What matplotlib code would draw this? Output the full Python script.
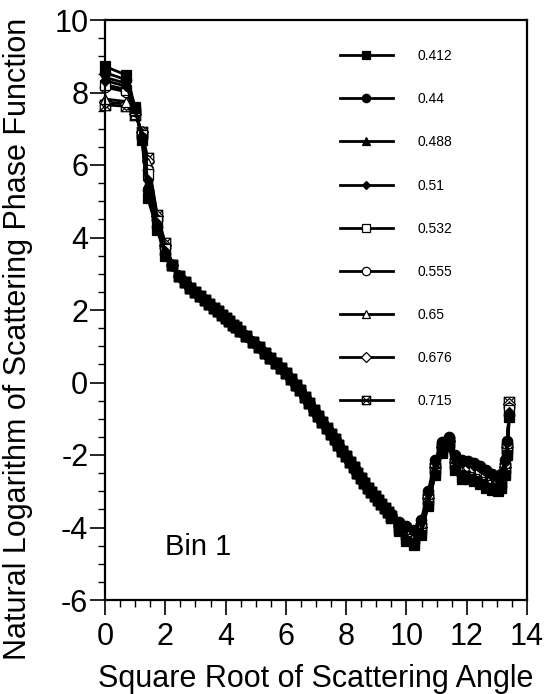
import numpy as np
import matplotlib
matplotlib.use("Agg")
import matplotlib.pyplot as plt
from matplotlib.path import Path
from matplotlib.ticker import MultipleLocator

plt.rcParams['font.family'] = ['Liberation Sans', 'DejaVu Sans']
plt.rcParams['axes.unicode_minus'] = False

labels = ['0.412', '0.44', '0.488', '0.51', '0.532', '0.555', '0.65', '0.676', '0.715']

# scattering angles (degrees); x axis is sqrt(angle)
head_angle = [0, 0.5, 1, 1.5, 2, 3, 4]
mid_angle = list(range(5, 21)) + list(range(22, 89, 2))
tail_angle = [90, 95, 100, 105, 110, 115, 120, 125, 130, 135, 140, 145, 150,
              155, 160, 165, 170, 173, 176, 178, 180]

# forward peak, one row per series
head = [
    [8.72, 8.48, 7.60, 6.70, 5.10, 4.20, 3.50],
    [8.55, 8.35, 7.58, 6.75, 5.30, 4.28, 3.55],
    [8.42, 8.25, 7.56, 6.78, 5.50, 4.35, 3.60],
    [8.33, 8.17, 7.54, 6.80, 5.60, 4.40, 3.63],
    [8.22, 8.08, 7.52, 6.82, 5.75, 4.45, 3.67],
    [8.15, 8.02, 7.50, 6.84, 5.85, 4.48, 3.70],
    [7.82, 7.75, 7.42, 6.88, 6.05, 4.55, 3.77],
    [7.74, 7.68, 7.40, 6.90, 6.10, 4.58, 3.80],
    [7.66, 7.62, 7.38, 6.92, 6.20, 4.62, 3.85],
]

# middle angles, where all series overlap
mid = [3.25, 2.95, 2.78, 2.62, 2.50, 2.38, 2.27, 2.16, 2.06, 1.96, 1.87, 1.78,
       1.69, 1.60, 1.52, 1.43,
       1.27, 1.12, 0.97, 0.82, 0.68, 0.55, 0.41, 0.25, 0.09, -0.06, -0.21,
       -0.39, -0.57, -0.75, -0.92, -1.08, -1.25, -1.41, -1.57, -1.73, -1.88,
       -2.04, -2.19, -2.34, -2.49, -2.63, -2.77, -2.91, -3.02, -3.14, -3.25,
       -3.36, -3.47, -3.58]

# side and back scattering, one row per series
tail = [
    [-3.74, -4.09, -4.37, -4.47, -4.20, -3.40, -2.55, -1.95, -1.74, -2.40, -2.65,
     -2.67, -2.73, -2.80, -2.90, -2.97, -3.00, -2.92, -2.55, -2.00, -0.95],
    [-3.62, -3.85, -3.97, -4.07, -3.80, -3.00, -2.15, -1.65, -1.50, -2.00, -2.15,
     -2.17, -2.23, -2.30, -2.40, -2.53, -2.60, -2.52, -2.15, -1.60, -0.90],
    [-3.71, -4.03, -4.27, -4.37, -4.10, -3.30, -2.45, -1.88, -1.68, -2.30, -2.53,
     -2.55, -2.61, -2.68, -2.78, -2.86, -2.90, -2.82, -2.45, -1.90, -0.85],
    [-3.64, -3.88, -4.02, -4.12, -3.85, -3.05, -2.20, -1.69, -1.53, -2.05, -2.21,
     -2.23, -2.29, -2.36, -2.46, -2.59, -2.65, -2.57, -2.20, -1.65, -0.80],
    [-3.73, -4.06, -4.32, -4.42, -4.15, -3.35, -2.50, -1.91, -1.71, -2.35, -2.59,
     -2.61, -2.67, -2.74, -2.84, -2.92, -2.95, -2.87, -2.50, -1.95, -0.75],
    [-3.65, -3.91, -4.07, -4.17, -3.90, -3.10, -2.25, -1.73, -1.56, -2.10, -2.28,
     -2.30, -2.36, -2.43, -2.53, -2.64, -2.70, -2.62, -2.25, -1.70, -0.70],
    [-3.70, -4.01, -4.23, -4.33, -4.06, -3.26, -2.41, -1.85, -1.66, -2.26, -2.48,
     -2.50, -2.56, -2.63, -2.73, -2.82, -2.86, -2.78, -2.41, -1.86, -0.65],
    [-3.67, -3.96, -4.15, -4.25, -3.98, -3.18, -2.33, -1.79, -1.61, -2.18, -2.38,
     -2.40, -2.46, -2.53, -2.63, -2.73, -2.78, -2.70, -2.33, -1.78, -0.60],
    [-3.69, -3.98, -4.19, -4.29, -4.02, -3.22, -2.37, -1.82, -1.63, -2.22, -2.43,
     -2.45, -2.51, -2.58, -2.68, -2.77, -2.82, -2.74, -2.37, -1.82, -0.55],
]

# square with an X inside
boxx = Path([(-1, -1), (1, -1), (1, 1), (-1, 1), (-1, -1),
             (-1, -1), (1, 1), (-1, 1), (1, -1)],
            [Path.MOVETO, Path.LINETO, Path.LINETO, Path.LINETO, Path.CLOSEPOLY,
             Path.MOVETO, Path.LINETO, Path.MOVETO, Path.LINETO])

styles = [
    dict(marker='s', mfc='black', ms=7.5),
    dict(marker='o', mfc='black', ms=7.5),
    dict(marker='^', mfc='black', ms=7.5),
    dict(marker='D', mfc='black', ms=5.5),
    dict(marker='s', mfc='white', ms=7.5),
    dict(marker='o', mfc='white', ms=7.5),
    dict(marker='^', mfc='white', ms=7.5),
    dict(marker='D', mfc='white', ms=6),
    dict(marker=boxx, mfc='none', ms=7.5),
]

angle = np.array(head_angle + mid_angle + tail_angle, dtype=float)
x = np.sqrt(angle)

fig = plt.figure(figsize=(5.55, 6.94), dpi=100)
ax = fig.add_axes([105 / 555, 1 - 600 / 694, 422 / 555, 580 / 694])

handles = [None] * len(labels)
for k in reversed(range(len(labels))):
    y = head[k] + mid + tail[k]
    ln, = ax.plot(x, y, color='black', lw=2, mec='black', mew=0.9,
                  clip_on=False, **styles[k])
    handles[k] = ln

ax.set_xlim(0, 14)
ax.set_ylim(-6, 10)
ax.xaxis.set_major_locator(MultipleLocator(2))
ax.xaxis.set_minor_locator(MultipleLocator(0.5))
ax.yaxis.set_major_locator(MultipleLocator(2))
ax.yaxis.set_minor_locator(MultipleLocator(0.5))
ax.tick_params(which='major', direction='out', length=11, width=1.2,
               labelsize=22, top=False, right=False)
ax.tick_params(which='minor', direction='out', length=5, width=1.0,
               top=False, right=False)
ax.tick_params(axis='x', pad=5)
ax.tick_params(axis='y', pad=1)
for s in ax.spines.values():
    s.set_linewidth(1.6)

ax.text(2.0, -4.76, 'Bin 1', fontsize=21, ha='left', va='baseline')

fig.text(316 / 555, 1 - 687 / 694, 'Square Root of Scattering Angle',
         fontsize=22, ha='center', va='baseline')
fig.text(18 / 555, 1 - 339 / 694, 'Natural Logarithm of Scattering Phase Function',
         fontsize=22, ha='center', va='center', rotation=90)

ax.legend(handles, labels, loc='upper left',
          bbox_to_anchor=(340 / 555, 1 - 49 / 694), bbox_transform=fig.transFigure,
          frameon=False, fontsize=10, handlelength=3.8, handletextpad=1.8,
          labelspacing=2.1, borderpad=0, borderaxespad=0, numpoints=1,
          markerscale=0.8)

fig.savefig('out.png', dpi=100)
